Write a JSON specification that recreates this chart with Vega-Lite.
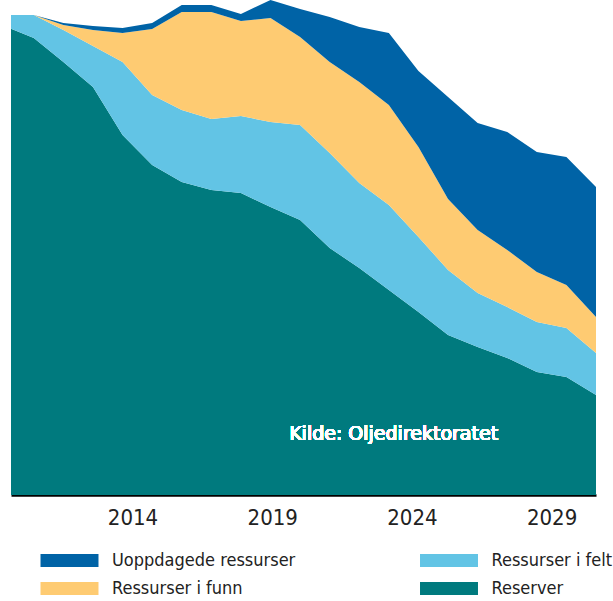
{
  "$schema": "https://vega.github.io/schema/vega-lite/v6.json",
  "width": 585,
  "height": 495,
  "autosize": {"type": "none"},
  "padding": {"left": 11, "top": 0, "right": 17, "bottom": 106},
  "background": "white",
  "config": {"view": {"stroke": null}},
  "layer": [
    {
      "data": {
        "values": [
          {"year": 2010, "Reserver": 234.5, "Ressurser i felt": 5.5, "Ressurser i funn": 0, "Uoppdagede ressurser": 0},
          {"year": 2011, "Reserver": 228.5, "Ressurser i felt": 11.5, "Ressurser i funn": 0, "Uoppdagede ressurser": 0},
          {"year": 2012, "Reserver": 216.5, "Ressurser i felt": 16, "Ressurser i funn": 2.5, "Uoppdagede ressurser": 1},
          {"year": 2013, "Reserver": 204, "Ressurser i felt": 20.5, "Ressurser i funn": 8, "Uoppdagede ressurser": 2},
          {"year": 2014, "Reserver": 180, "Ressurser i felt": 36.5, "Ressurser i funn": 14.5, "Uoppdagede ressurser": 2.5},
          {"year": 2015, "Reserver": 165, "Ressurser i felt": 35, "Ressurser i funn": 33, "Uoppdagede ressurser": 3},
          {"year": 2016, "Reserver": 156.5, "Ressurser i felt": 36, "Ressurser i funn": 49, "Uoppdagede ressurser": 3.5},
          {"year": 2017, "Reserver": 152.5, "Ressurser i felt": 35.5, "Ressurser i funn": 53.5, "Uoppdagede ressurser": 3.5},
          {"year": 2018, "Reserver": 151, "Ressurser i felt": 38.5, "Ressurser i funn": 47.5, "Uoppdagede ressurser": 3.5},
          {"year": 2019, "Reserver": 144, "Ressurser i felt": 42.5, "Ressurser i funn": 52, "Uoppdagede ressurser": 9},
          {"year": 2020, "Reserver": 137.5, "Ressurser i felt": 47.5, "Ressurser i funn": 44, "Uoppdagede ressurser": 14},
          {"year": 2021, "Reserver": 123.5, "Ressurser i felt": 47.5, "Ressurser i funn": 45.5, "Uoppdagede ressurser": 22.5},
          {"year": 2022, "Reserver": 113.5, "Ressurser i felt": 42.5, "Ressurser i funn": 50.5, "Uoppdagede ressurser": 27.5},
          {"year": 2023, "Reserver": 102.5, "Ressurser i felt": 42.5, "Ressurser i funn": 50, "Uoppdagede ressurser": 36},
          {"year": 2024, "Reserver": 91.5, "Ressurser i felt": 37.5, "Ressurser i funn": 45, "Uoppdagede ressurser": 38},
          {"year": 2025, "Reserver": 80, "Ressurser i felt": 32.5, "Ressurser i funn": 35.5, "Uoppdagede ressurser": 51},
          {"year": 2026, "Reserver": 74, "Ressurser i felt": 27, "Ressurser i funn": 31.5, "Uoppdagede ressurser": 53.5},
          {"year": 2027, "Reserver": 68.5, "Ressurser i felt": 25.5, "Ressurser i funn": 28.5, "Uoppdagede ressurser": 59},
          {"year": 2028, "Reserver": 61.5, "Ressurser i felt": 25, "Ressurser i funn": 25, "Uoppdagede ressurser": 60},
          {"year": 2029, "Reserver": 59, "Ressurser i felt": 24.5, "Ressurser i funn": 21.5, "Uoppdagede ressurser": 64},
          {"year": 2030, "Reserver": 50, "Ressurser i felt": 21, "Ressurser i funn": 18, "Uoppdagede ressurser": 65}
        ]
      },
      "transform": [
        {"fold": ["Reserver", "Ressurser i felt", "Ressurser i funn", "Uoppdagede ressurser"], "as": ["serie", "value"]}
      ],
      "layer": [
        {
          "mark": {"type": "area", "clip": true, "interpolate": "linear"},
          "encoding": {
            "x": {"field": "year", "type": "quantitative", "scale": {"domain": [2010.23, 2030], "nice": false, "zero": false}, "axis": null},
            "y": {"field": "value", "type": "quantitative", "stack": "zero", "scale": {"domain": [0, 247.5], "nice": false}, "axis": null},
            "color": {
              "field": "serie",
              "type": "nominal",
              "scale": {
                "domain": ["Uoppdagede ressurser", "Ressurser i funn", "Ressurser i felt", "Reserver"],
                "range": ["#0063A6", "#FECB72", "#62C4E5", "#007A7E"]
              },
              "legend": {
                "orient": "none",
                "legendX": 49.5,
                "legendY": 551.5,
                "columns": 2,
                "columnPadding": 124.5,
                "rowPadding": 10,
                "title": null,
                "symbolType": "M-4.46,-1H4.46V1H-4.46Z",
                "symbolSize": 169,
                "symbolStrokeWidth": 0,
                "symbolOpacity": 1,
                "labelFont": "DejaVu Sans Condensed, Liberation Sans Narrow, Roboto, sans-serif",
                "labelFontSize": 18,
                "labelColor": "#222222",
                "labelOffset": 33.5,
                "labelLimit": 400
              }
            },
            "order": {"field": "serie", "sort": "ascending"}
          }
        },
        {
          "mark": {"type": "text", "align": "left", "baseline": "alphabetic", "font": "DejaVu Sans", "fontSize": 19, "fontWeight": "normal", "color": "white"},
          "encoding": {
            "x": {"datum": 2019.63, "type": "quantitative"},
            "y": {"datum": 27.75, "type": "quantitative"},
            "text": {"value": "Kilde: Oljedirektoratet"}
          }
        }
      ]
    },
    {
      "data": {"values": [{"year": 2009}, {"year": 2014}, {"year": 2019}, {"year": 2024}, {"year": 2029}]},
      "mark": {"type": "point", "opacity": 0},
      "encoding": {
        "x": {
          "field": "year",
          "type": "quantitative",
          "scale": {"domain": [2009.65, 2030.59], "nice": false, "zero": false},
          "axis": {
            "orient": "bottom",
            "values": [2009, 2014, 2019, 2024, 2029],
            "format": "d",
            "title": null,
            "ticks": false,
            "grid": false,
            "domain": true,
            "domainColor": "#000000",
            "domainWidth": 2.5,
            "labelFont": "DejaVu Sans Condensed, Liberation Sans Narrow, Roboto, sans-serif",
            "labelFontSize": 22,
            "labelColor": "#222222",
            "labelFlush": false,
            "labelOverlap": false,
            "labelPadding": 12
          }
        }
      }
    }
  ],
  "resolve": {"scale": {"x": "independent", "y": "independent"}, "axis": {"x": "independent"}}
}
